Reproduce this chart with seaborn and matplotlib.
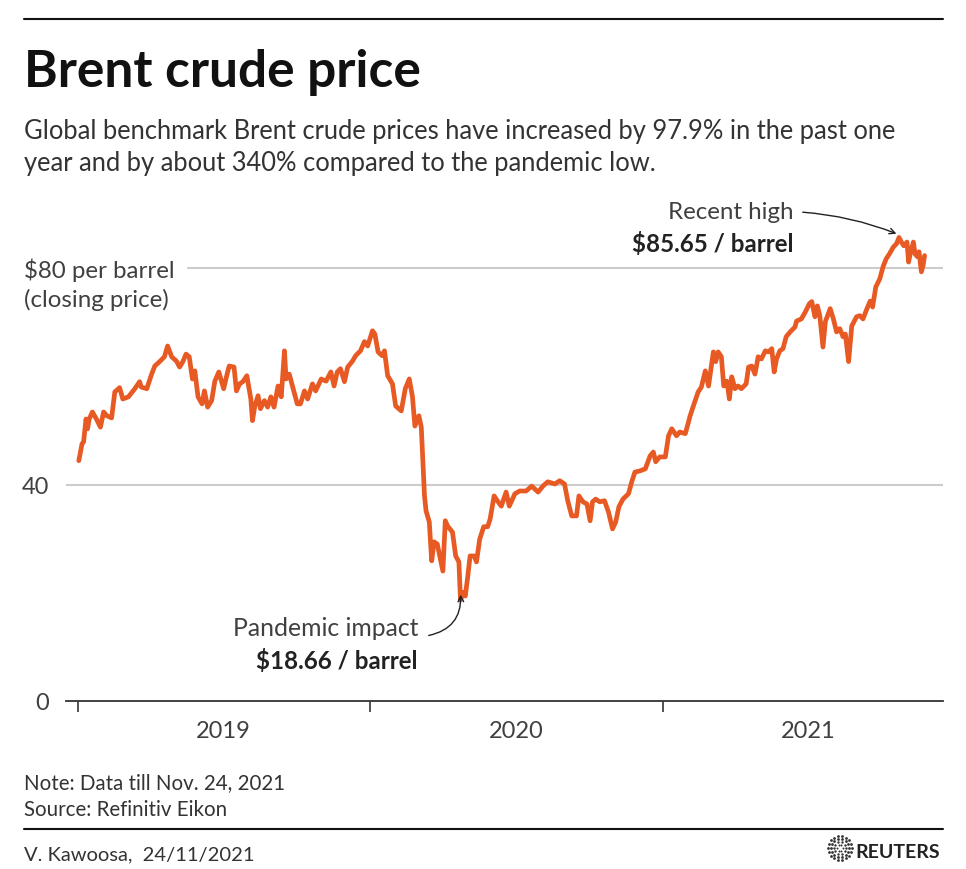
import numpy as np
import pandas as pd
import seaborn as sns
import matplotlib.pyplot as plt

# Brent crude closing price
dates = [
    "2019-01-02", "2019-01-06", "2019-01-08", "2019-01-11", "2019-01-13", "2019-01-15",
    "2019-01-19", "2019-01-24", "2019-01-29", "2019-02-02", "2019-02-06", "2019-02-12",
    "2019-02-16", "2019-02-22", "2019-02-26", "2019-03-05", "2019-03-13", "2019-03-19",
    "2019-03-21", "2019-03-28", "2019-04-03", "2019-04-07", "2019-04-13", "2019-04-19",
    "2019-04-23", "2019-04-28", "2019-05-04", "2019-05-08", "2019-05-12", "2019-05-16",
    "2019-05-20", "2019-05-24", "2019-05-27", "2019-05-31", "2019-06-05", "2019-06-08",
    "2019-06-12", "2019-06-17", "2019-06-21", "2019-06-26", "2019-07-02", "2019-07-07",
    "2019-07-09", "2019-07-15", "2019-07-18", "2019-07-22", "2019-07-26", "2019-07-31",
    "2019-08-05", "2019-08-07", "2019-08-10", "2019-08-14", "2019-08-17", "2019-08-22",
    "2019-08-26", "2019-08-30", "2019-09-03", "2019-09-08", "2019-09-12", "2019-09-16",
    "2019-09-18", "2019-09-22", "2019-09-26", "2019-10-02", "2019-10-06", "2019-10-11",
    "2019-10-15", "2019-10-21", "2019-10-25", "2019-11-01", "2019-11-07", "2019-11-13",
    "2019-11-17", "2019-11-21", "2019-11-25", "2019-11-30", "2019-12-04", "2019-12-10",
    "2019-12-14", "2019-12-20", "2019-12-25", "2019-12-29",
    "2020-01-04", "2020-01-07", "2020-01-11", "2020-01-16", "2020-01-19", "2020-01-23",
    "2020-01-29", "2020-02-02", "2020-02-09", "2020-02-14", "2020-02-19", "2020-02-23",
    "2020-02-26", "2020-03-02", "2020-03-05", "2020-03-09", "2020-03-11", "2020-03-15",
    "2020-03-18", "2020-03-21", "2020-03-25", "2020-04-01", "2020-04-04", "2020-04-07",
    "2020-04-13", "2020-04-17", "2020-04-21", "2020-04-23", "2020-04-27", "2020-04-29",
    "2020-05-02", "2020-05-05", "2020-05-10", "2020-05-13", "2020-05-17", "2020-05-22",
    "2020-05-27", "2020-05-30", "2020-06-04", "2020-06-09", "2020-06-13", "2020-06-19",
    "2020-06-23", "2020-06-30", "2020-07-06", "2020-07-14", "2020-07-21", "2020-07-29",
    "2020-08-04", "2020-08-10", "2020-08-19", "2020-08-25", "2020-08-31", "2020-09-04",
    "2020-09-09", "2020-09-15", "2020-09-18", "2020-09-23", "2020-09-28", "2020-10-02",
    "2020-10-05", "2020-10-09", "2020-10-14", "2020-10-20", "2020-10-25", "2020-10-30",
    "2020-11-03", "2020-11-07", "2020-11-12", "2020-11-19", "2020-11-23", "2020-11-27",
    "2020-12-03", "2020-12-10", "2020-12-16", "2020-12-20", "2020-12-23", "2020-12-28",
    "2021-01-04", "2021-01-08", "2021-01-12", "2021-01-18", "2021-01-22", "2021-01-29",
    "2021-02-04", "2021-02-08", "2021-02-14", "2021-02-18", "2021-02-23", "2021-02-27",
    "2021-03-05", "2021-03-08", "2021-03-11", "2021-03-15", "2021-03-18", "2021-03-22",
    "2021-03-25", "2021-03-28", "2021-04-01", "2021-04-05", "2021-04-09", "2021-04-15",
    "2021-04-18", "2021-04-22", "2021-04-26", "2021-04-30", "2021-05-04", "2021-05-09",
    "2021-05-13", "2021-05-17", "2021-05-20", "2021-05-23", "2021-05-27", "2021-05-31",
    "2021-06-04", "2021-06-09", "2021-06-15", "2021-06-17", "2021-06-23", "2021-06-28",
    "2021-07-03", "2021-07-06", "2021-07-10", "2021-07-13", "2021-07-16", "2021-07-20",
    "2021-07-23", "2021-07-29", "2021-08-02", "2021-08-06", "2021-08-10", "2021-08-14",
    "2021-08-17", "2021-08-21", "2021-08-25", "2021-08-31", "2021-09-04", "2021-09-08",
    "2021-09-13", "2021-09-17", "2021-09-20", "2021-09-24", "2021-09-29", "2021-10-03",
    "2021-10-07", "2021-10-11", "2021-10-16", "2021-10-20", "2021-10-23", "2021-10-26",
    "2021-10-29", "2021-11-02", "2021-11-04", "2021-11-06", "2021-11-10", "2021-11-12",
    "2021-11-15", "2021-11-17", "2021-11-20", "2021-11-22", "2021-11-24",
]
prices = [
    44.4, 47.5, 47.9, 52.1, 50.3, 52.1,
    53.4, 52.1, 50.6, 53.4, 52.7, 52.3,
    57.1, 57.9, 55.8, 56.2, 57.7, 59.0,
    58.0, 57.7, 60.4, 61.9, 62.7, 63.6,
    65.6, 63.6, 62.8, 61.7, 62.7, 64.1,
    63.6, 59.5, 61.0, 56.2, 54.9, 57.3,
    54.3, 55.5, 59.1, 60.8, 57.7, 60.8,
    61.9, 61.7, 57.3, 58.6, 59.0, 60.1,
    55.8, 51.8, 54.5, 56.4, 54.0, 55.5,
    54.3, 56.2, 54.3, 58.2, 56.2, 64.7,
    59.5, 60.4, 58.2, 54.9, 54.9, 57.3,
    55.8, 58.6, 57.3, 59.5, 59.1, 60.8,
    58.2, 60.8, 61.4, 59.0, 61.7, 62.8,
    63.8, 64.7, 66.4, 65.6,
    68.4, 67.8, 64.5, 63.8, 64.7, 60.1,
    58.6, 54.5, 53.6, 57.7, 59.5, 56.2,
    50.8, 52.7, 50.6, 37.9, 35.1, 33.1,
    25.9, 29.4, 29.0, 24.0, 33.3, 32.3,
    31.2, 26.8, 25.7, 18.66, 20.1, 19.4,
    22.9, 26.8, 26.8, 25.7, 29.9, 32.2,
    32.2, 33.6, 37.9, 36.8, 36.0, 38.6,
    36.0, 38.3, 38.8, 38.8, 39.7, 38.6,
    39.7, 40.5, 40.1, 40.7, 40.1, 37.0,
    34.2, 34.2, 37.9, 36.8, 36.4, 33.3,
    36.8, 37.3, 36.8, 37.0, 34.9, 31.8,
    33.1, 35.9, 37.3, 38.3, 40.5, 42.3,
    42.5, 42.9, 45.3, 46.0, 44.2, 45.1,
    45.1, 49.0, 50.3, 49.0, 49.7, 49.4,
    52.7, 54.5, 57.1, 58.0, 61.0, 58.2,
    64.5, 62.7, 64.5, 63.6, 58.2, 59.1,
    55.8, 59.9, 57.7, 58.2, 57.7, 58.6,
    61.7, 61.9, 60.4, 63.6, 63.2, 64.7,
    64.5, 65.1, 60.8, 63.2, 64.7, 65.1,
    67.3, 68.2, 69.1, 70.2, 70.6, 71.9,
    73.4, 73.8, 71.0, 73.0, 71.2, 65.4,
    70.1, 72.5, 70.6, 68.2, 68.8, 67.3,
    67.8, 62.7, 69.3, 71.0, 71.2, 70.6,
    72.5, 73.9, 72.8, 76.5, 78.0, 80.2,
    81.7, 82.6, 83.9, 84.5, 85.65, 84.8,
    84.1, 84.8, 81.1, 82.6, 84.8, 82.6,
    82.1, 83.0, 79.3, 80.4, 82.3,
]

year_starts = ["2019-01-01", "2020-01-01", "2021-01-01"]
year_mids = ["2019-07-02", "2020-07-02", "2021-07-02"]
year_labels = ["2019", "2020", "2021"]

df = pd.DataFrame({"date": pd.to_datetime(dates), "price": prices})

sns.set_style("white")
plt.rcParams["font.family"] = ["Lato", "DejaVu Sans"]

W, H = 966, 870
fig = plt.figure(figsize=(W / 100, H / 100), dpi=100)


def fx(px):
    return px / W


def fy(py):
    return 1 - py / H


orange = "#e85a24"
grey = "#404040"

ax = fig.add_axes([fx(66), fy(702), fx(943) - fx(66), fy(190) - fy(702)])
ax.set_xlim(pd.Timestamp("2018-12-17"), pd.Timestamp("2021-12-17"))
ax.set_ylim(0, 94.6)

ax.axhline(40, color="#cccccc", lw=1.5, zorder=1)
ax.axhline(80, xmin=(188 - 66) / (943 - 66), color="#cccccc", lw=1.5, zorder=1)

sns.lineplot(data=df, x="date", y="price", ax=ax, color=orange, lw=3.4, zorder=3)

for s in ["top", "right", "left"]:
    ax.spines[s].set_visible(False)
ax.spines["bottom"].set_color("#333333")
ax.spines["bottom"].set_linewidth(1.3)

ax.set_yticks([0, 40])
ax.set_yticklabels(["0", "40"])
ax.tick_params(axis="y", left=False, length=0, pad=12, labelsize=17, labelcolor=grey)

ax.set_xticks(pd.to_datetime(year_starts))
ax.set_xticklabels([])
ax.set_xticks(pd.to_datetime(year_mids), minor=True)
ax.set_xticklabels(year_labels, minor=True)
ax.tick_params(axis="x", which="major", bottom=True, length=8, width=1.2,
               color="#333333", direction="out")
ax.tick_params(axis="x", which="minor", bottom=True, length=0, pad=14,
               labelsize=17, labelcolor=grey)
ax.set_xlabel("")
ax.set_ylabel("")
ax.grid(False)

# y label for the 80 line
fig.text(fx(24), fy(278), "$80 per barrel", fontsize=17.4, color=grey, va="baseline")
fig.text(fx(24), fy(307), "(closing price)", fontsize=17.4, color=grey, va="baseline")

# annotations
hi = df.loc[df["price"].idxmax()]
lo = df.loc[df["price"].idxmin()]
ax.annotate("", xy=(hi["date"], hi["price"] + 0.5), xytext=(800, H - 213),
            textcoords="figure pixels",
            arrowprops=dict(arrowstyle="->", color="#222222", lw=1,
                            connectionstyle="arc3,rad=-0.08"))
fig.text(fx(793), fy(219), "Recent high", fontsize=17.4, color=grey, ha="right", va="baseline")
fig.text(fx(793), fy(252), "$85.65 / barrel", fontsize=17.4, color="#222222",
         ha="right", va="baseline", fontweight="bold")

ax.annotate("", xy=(lo["date"], lo["price"] + 1.5), xytext=(426, H - 637),
            textcoords="figure pixels",
            arrowprops=dict(arrowstyle="->", color="#222222", lw=1,
                            connectionstyle="arc3,rad=0.45"))
fig.text(fx(418), fy(636), "Pandemic impact", fontsize=17.8, color=grey, ha="right", va="baseline")
fig.text(fx(418), fy(669), "$18.66 / barrel", fontsize=17.4, color="#222222",
         ha="right", va="baseline", fontweight="bold")

# header
fig.add_artist(plt.Line2D([fx(24), fx(943)], [fy(20), fy(20)], color="#111111", lw=1.5))
fig.text(fx(24), fy(87), "Brent crude price", fontsize=37, fontweight="bold",
         color="#111111", va="baseline")
fig.text(fx(24), fy(139),
         "Global benchmark Brent crude prices have increased by 97.9% in the past one",
         fontsize=18.4, color="#333333", va="baseline")
fig.text(fx(24), fy(171), "year and by about 340% compared to the pandemic low.",
         fontsize=18.4, color="#333333", va="baseline")

# footer
fig.text(fx(24), fy(789), "Note: Data till Nov. 24, 2021", fontsize=14.8, color="#333333", va="baseline")
fig.text(fx(24), fy(816), "Source: Refinitiv Eikon", fontsize=14.8, color="#333333", va="baseline")
fig.add_artist(plt.Line2D([fx(24), fx(943)], [fy(830), fy(830)], color="#111111", lw=1.5))
fig.text(fx(24), fy(860), "V. Kawoosa,  24/11/2021", fontsize=14.5, color="#333333", va="baseline")

# Reuters logo: a ring of dots and the wordmark
lax = fig.add_axes([fx(824), fy(862), fx(856) - fx(824), fy(836) - fy(862)])
lax.set_xlim(-1.1, 1.1)
lax.set_ylim(-1.1, 1.1)
lax.set_aspect("equal")
lax.axis("off")
for r, n, s in [(1.0, 18, 4), (0.75, 14, 4), (0.5, 10, 3), (0.25, 6, 2)]:
    a = np.linspace(0, 2 * np.pi, n, endpoint=False)
    lax.scatter(r * np.cos(a), r * np.sin(a), s=s, color="#333333", lw=0)
fig.text(fx(940), fy(858), "REUTERS", fontsize=14, fontweight="bold", color="#222222",
         ha="right", va="baseline")

fig.savefig("out.png", dpi=100)
